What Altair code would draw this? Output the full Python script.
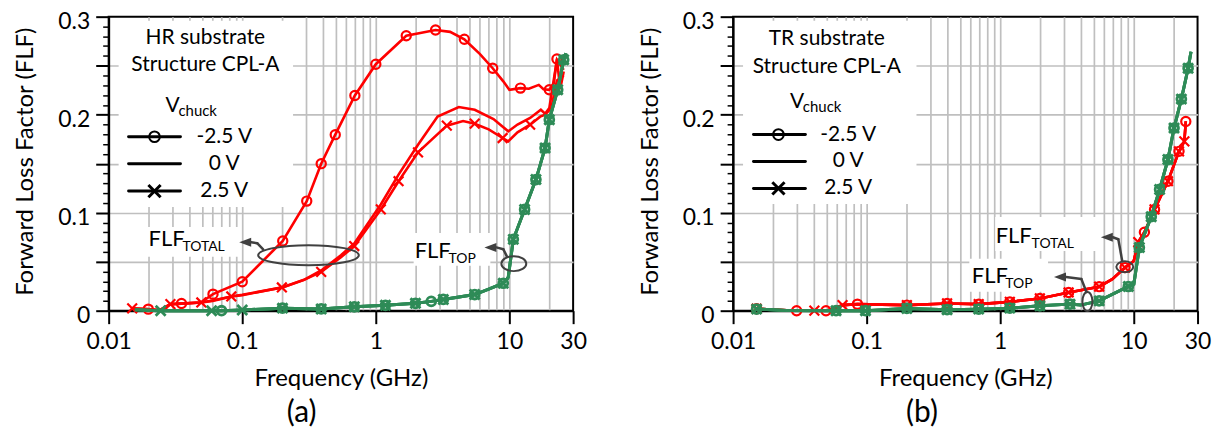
import altair as alt
import pandas as pd

FONT = "Lato"
RED = "#ff0000"
GREEN = "#2e8b57"
GRIDC = "#bfbfbf"
DARK = "#404040"

# ---------------- axis values ----------------
X_TICKS = [0.01, 0.1, 1, 10, 30]
X_GRID = [0.02, 0.03, 0.04, 0.05, 0.06, 0.07, 0.08, 0.09, 0.1,
          0.2, 0.3, 0.4, 0.5, 0.6, 0.7, 0.8, 0.9, 1,
          2, 3, 4, 5, 6, 7, 8, 9, 10, 20]
Y_MAJOR = [0, 0.05, 0.1, 0.15, 0.2, 0.25, 0.3]
Y_GRID = [0.05, 0.1, 0.15, 0.2, 0.25]
Y_MINOR = [0.01, 0.02, 0.03, 0.04, 0.06, 0.07, 0.08, 0.09, 0.11, 0.12, 0.13, 0.14,
           0.16, 0.17, 0.18, 0.19, 0.21, 0.22, 0.23, 0.24, 0.26, 0.27, 0.28, 0.29]

# ---------------- panel (a): HR substrate ----------------
# FLF_TOTAL, Vchuck = -2.5 V
A_TOT_N25_F = [0.015, 0.0198, 0.024, 0.029, 0.0351, 0.049, 0.0604, 0.1, 0.201, 0.304, 0.39, 0.497,
               0.697, 1.0, 1.69, 2.2, 2.8, 3.6, 4.6, 6.0, 7.5, 9.0, 10.0, 12.1, 14.0, 16.6, 18.0,
               19.9, 21.5, 22.7, 24.0, 25.5]
A_TOT_N25_V = [0.0023, 0.0016, 0.0004, 0.0065, 0.0074, 0.0084, 0.0169, 0.0296, 0.0711, 0.1118, 0.150,
               0.1796, 0.2196, 0.2515, 0.2806, 0.2835, 0.2864, 0.2845, 0.2769, 0.262, 0.2474, 0.234,
               0.2254, 0.2271, 0.2264, 0.2304, 0.226, 0.2254, 0.232, 0.2569, 0.226, 0.244]
A_TOT_N25_MF = [0.0198, 0.0351, 0.0604, 0.1, 0.201, 0.304, 0.39, 0.497, 0.697, 1.0, 1.69, 2.8, 4.6,
                7.5, 12.1, 19.9, 22.7]
A_TOT_N25_MV = [0.0016, 0.0074, 0.0169, 0.0296, 0.0711, 0.1118, 0.150, 0.1796, 0.2196, 0.2515,
                0.2806, 0.2864, 0.2769, 0.2474, 0.2271, 0.2254, 0.2569]
# FLF_TOTAL, Vchuck = 0 V
A_TOT_0_F = [0.015, 0.0198, 0.024, 0.029, 0.0351, 0.049, 0.06, 0.083, 0.1, 0.2, 0.29, 0.39, 0.548,
             0.69, 1.09, 1.48, 2.07, 2.9, 4.18, 5.5, 7.6, 9.8, 11.5, 14.3, 17.2, 18.5, 19.9, 22.7, 25.5]
A_TOT_0_V = [0.0022, 0.0015, 0.0004, 0.0066, 0.0072, 0.0084, 0.0105, 0.0145, 0.0162, 0.0238, 0.0315,
             0.041, 0.0565, 0.0686, 0.1084, 0.1389, 0.1694, 0.1982, 0.2078, 0.205, 0.1956, 0.183,
             0.19, 0.1966, 0.205, 0.201, 0.2067, 0.256, 0.2457]
# FLF_TOTAL, Vchuck = 2.5 V
A_TOT_P25_F = [0.015, 0.0198, 0.024, 0.029, 0.0351, 0.0494, 0.06, 0.0828, 0.1, 0.198, 0.29, 0.39,
               0.548, 0.69, 1.09, 1.48, 2.07, 3.4, 4.5, 5.5, 7.0, 8.9, 9.8, 11.5, 14.3, 17.0, 18.5,
               20.6, 22.7, 25.5]
A_TOT_P25_V = [0.0023, 0.0015, 0.0003, 0.0067, 0.0072, 0.0084, 0.0100, 0.0145, 0.0158, 0.0237,
               0.0314, 0.0396, 0.0545, 0.066, 0.1033, 0.1321, 0.1616, 0.1888, 0.1935, 0.1908, 0.185,
               0.1762, 0.1728, 0.182, 0.1898, 0.198, 0.2, 0.2067, 0.235, 0.24]
A_TOT_P25_MF = [0.015, 0.029, 0.0494, 0.0828, 0.198, 0.39, 0.69, 1.09, 1.48, 2.07, 3.4, 5.5, 8.9, 14.3]
A_TOT_P25_MV = [0.0023, 0.0067, 0.0084, 0.0145, 0.0237, 0.0396, 0.066, 0.1033, 0.1321, 0.1616,
                0.1888, 0.1908, 0.1762, 0.1898]
# FLF_TOP (all three Vchuck overlap)
A_TOP_F = [0.0157, 0.0245, 0.035, 0.059, 0.07, 0.1, 0.2, 0.39, 0.69, 1.18, 1.98, 2.6, 3.2, 5.5, 7.0,
           9.0, 9.8, 10.7, 13.0, 15.8, 18.5, 19.9, 23.0, 25.5, 26.5]
A_TOP_V = [0.001, 0.0, 0.0, 0.0, 0.0, 0.0008, 0.0026, 0.0018, 0.004, 0.0055, 0.0075, 0.0095, 0.0115,
           0.0165, 0.022, 0.028, 0.0339, 0.0728, 0.1033, 0.1338, 0.166, 0.1949, 0.2254, 0.256, 0.2627]
A_TOP_N25_MF = [0.07, 0.2, 0.39, 0.69, 1.18, 1.98, 2.6, 3.2, 5.5, 9.0, 10.7, 13.0, 15.8, 18.5, 19.9,
                23.0, 25.5]
A_TOP_N25_MV = [0.0, 0.0026, 0.0018, 0.004, 0.0055, 0.0075, 0.0095, 0.0115, 0.0165, 0.028, 0.0728,
                0.1033, 0.1338, 0.166, 0.1949, 0.2254, 0.256]
A_TOP_P25_MF = [0.0245, 0.059, 0.1, 0.2, 0.39, 0.69, 1.18, 1.98, 3.2, 5.5, 9.0, 10.7, 13.0, 15.8,
                18.5, 19.9, 23.0, 25.5]
A_TOP_P25_MV = [0.0, 0.0, 0.0008, 0.0026, 0.0018, 0.004, 0.0055, 0.0075, 0.0115, 0.0165, 0.028,
                0.0728, 0.1033, 0.1338, 0.166, 0.1949, 0.2254, 0.256]

# ---------------- panel (b): TR substrate ----------------
B_TOT_F = [0.015, 0.0299, 0.0406, 0.0496, 0.059, 0.066, 0.0853, 0.2, 0.4, 0.69, 1.18, 1.98, 3.25,
           5.5, 6.9, 8.6, 10.0, 10.8, 12.0, 14.3, 18.0, 21.8, 23.9, 24.5]
B_TOT_V = [0.002, 0.0, 0.0, 0.0, 0.003, 0.0057, 0.0067, 0.0057, 0.0074, 0.0067, 0.009, 0.0125,
           0.0186, 0.0245, 0.0321, 0.044, 0.0508, 0.07, 0.080, 0.1033, 0.1321, 0.1626, 0.1728, 0.1931]
B_TOT_N25_MF = [0.015, 0.0299, 0.0496, 0.0853, 0.2, 0.4, 0.69, 1.18, 1.98, 3.25, 5.5, 8.6, 12.0,
                14.3, 18.0, 21.8, 24.5]
B_TOT_N25_MV = [0.002, 0.0, 0.0, 0.0067, 0.0057, 0.0074, 0.0067, 0.009, 0.0125, 0.0186, 0.0245,
                0.044, 0.080, 0.1033, 0.1321, 0.1626, 0.1931]
B_TOT_P25_MF = [0.015, 0.0406, 0.066, 0.2, 0.4, 0.69, 1.18, 1.98, 3.25, 5.5, 8.6, 10.8, 14.3, 18.0,
                21.8, 23.9]
B_TOT_P25_MV = [0.002, 0.0, 0.0057, 0.0057, 0.0074, 0.0067, 0.009, 0.0125, 0.0186, 0.0245, 0.044,
                0.07, 0.1033, 0.1321, 0.1626, 0.1728]
B_TOP_F = [0.015, 0.025, 0.059, 0.098, 0.2, 0.4, 0.69, 1.18, 1.98, 3.33, 4.0, 5.5, 9.1, 10.0, 11.0,
           13.5, 15.6, 18.0, 20.0, 22.7, 25.5, 26.8]
B_TOP_V = [0.0016, 0.0003, 0.0, 0.0, 0.0023, 0.001, 0.0016, 0.0026, 0.005, 0.0067, 0.0057, 0.01,
           0.0247, 0.027, 0.0644, 0.0959, 0.1237, 0.1542, 0.1864, 0.2159, 0.2474, 0.2643]
B_TOP_MF = [0.015, 0.059, 0.098, 0.2, 0.4, 0.69, 1.18, 1.98, 3.33, 5.5, 9.1, 11.0, 13.5, 15.6, 18.0,
            20.0, 22.7, 25.5]
B_TOP_MV = [0.0016, 0.0, 0.0, 0.0023, 0.001, 0.0016, 0.0026, 0.005, 0.0067, 0.01, 0.0247, 0.0644,
            0.0959, 0.1237, 0.1542, 0.1864, 0.2159, 0.2474]

VOLTS = ["-2.5 V", "0 V", "2.5 V"]

W, H = 466, 295
XS = alt.Scale(type="log", domain=[0.01, 30], nice=False)
YS = alt.Scale(domain=[0, 0.3], nice=False, zero=False)

X_SHAPE = "M-1,-1L1,1M-1,1L1,-1"
ARROW_HEAD = "M-1,0L1,-0.75L1,0.75Z"


def ellipse_path(ratio):
    return f"M-1,0A1,{ratio},0,1,1,1,0A1,{ratio},0,1,1,-1,0Z"


def sdf(F, V, volt):
    return pd.DataFrame({"f": F, "v": V, "volt": volt})


ONE = alt.Data(values=[{"k": 1}])

grid_x = alt.Axis(orient="bottom", grid=True, values=X_GRID, ticks=False, labels=False,
                  domain=False, title=None, gridColor=GRIDC, gridWidth=1.7)
grid_y = alt.Axis(orient="left", grid=True, values=Y_GRID, ticks=False, labels=False,
                  domain=False, title=None, gridColor=GRIDC, gridWidth=1.7)
main_x = alt.Axis(orient="bottom", grid=False, values=X_TICKS, format="~g", tickSize=13,
                  tickWidth=2, tickColor="black", domainColor="black", domainWidth=2,
                  labelFont=FONT, labelFontSize=23, labelColor="black", labelPadding=7,
                  labelFlush=False, labelOverlap=False, title="Frequency (GHz)", titleFont=FONT,
                  titleFontSize=24, titleFontWeight="normal", titleColor="black", titleY=68,
                  titleBaseline="middle")
main_y = alt.Axis(orient="left", grid=False, values=Y_MAJOR,
                  labelExpr="abs(datum.value*10 - round(datum.value*10)) < 0.001 ? format(datum.value, '~g') : ''",
                  tickSize=13, tickWidth=2, tickColor="black", domainColor="black", domainWidth=2,
                  labelFont=FONT, labelFontSize=23, labelColor="black", labelPadding=6,
                  labelOffset=4.5, labelOverlap=False, labelFlush=False,
                  title="Forward Loss Factor (FLF)", titleFont=FONT, titleFontSize=24,
                  titleFontWeight="normal", titleColor="black", titleX=-83, titleY=145,
                  titleBaseline="middle", titleAlign="center")
minor_y = alt.Axis(orient="left", grid=False, values=Y_MINOR, tickSize=6, tickWidth=1.5,
                   tickColor="black", labels=False, domain=False, title=None)


def rect(x, x2, y, y2):
    return alt.Chart(ONE).mark_rect(color="white").encode(
        x=alt.value(x), x2=alt.value(x2), y=alt.value(y), y2=alt.value(y2))


def text(t, x, y, size=20, align="center", color="black"):
    return alt.Chart(ONE).mark_text(text=t, font=FONT, fontSize=size, align=align,
                                    baseline="middle", color=color).encode(
        x=alt.value(x), y=alt.value(y))


def seg(x, y, x2, y2, color=DARK, width=2.5):
    return alt.Chart(ONE).mark_rule(color=color, strokeWidth=width, strokeCap="round").encode(
        x=alt.value(x), y=alt.value(y), x2=alt.value(x2), y2=alt.value(y2))


def sym(x, y, shape, size, color="black", filled=False, width=2):
    return alt.Chart(ONE).mark_point(shape=shape, size=size, filled=filled, color=color,
                                     strokeWidth=width, opacity=1).encode(
        x=alt.value(x), y=alt.value(y))


def panel(red_lines, green_lines, red_circ, red_x, green_circ, green_x, ann):
    fx_grid = alt.X("f:Q", scale=XS, axis=grid_x)
    fy_grid = alt.Y("v:Q", scale=YS, axis=grid_y)
    fx_main = alt.X("f:Q", scale=XS, axis=main_x)
    fy_main = alt.Y("v:Q", scale=YS, axis=main_y)
    fx_none = alt.X("f:Q", scale=XS, axis=None)
    fy_minor = alt.Y("v:Q", scale=YS, axis=minor_y)
    fy_none = alt.Y("v:Q", scale=YS, axis=None)

    layers = [
        # white boxes behind texts (hide grid)
        rect(*ann["legend_box"]),
        rect(*ann["total_box"]),
        rect(*ann["top_box"]),
        alt.Chart(red_lines).mark_line(color=RED, strokeWidth=2.6).encode(
            x=fx_grid, y=fy_grid, detail="volt:N"),
        alt.Chart(red_circ).mark_point(shape="circle", size=85, filled=False, color=RED,
                                       strokeWidth=2.2, opacity=1).encode(x=fx_none, y=fy_minor),
        alt.Chart(red_x).mark_point(shape=X_SHAPE, size=95, filled=False, color=RED,
                                    strokeWidth=2.2, opacity=1).encode(x=fx_none, y=fy_none),
        alt.Chart(green_lines).mark_line(color=GREEN, strokeWidth=3).encode(
            x=fx_main, y=fy_main, detail="volt:N"),
        alt.Chart(green_circ).mark_point(shape="circle", size=80, filled=False, color=GREEN,
                                         strokeWidth=2.8, opacity=1).encode(x=fx_none, y=fy_none),
        alt.Chart(green_x).mark_point(shape=X_SHAPE, size=100, filled=False, color=GREEN,
                                      strokeWidth=2.8, opacity=1).encode(x=fx_none, y=fy_none),
    ]
    # texts in the legend box
    tx, ty1, ty2 = ann["title_pos"]
    layers += [text(ann["title1"], tx, ty1, size=21), text("Structure CPL-A", tx, ty2, size=21)]
    vx, vy = ann["v_pos"]
    layers += [text("V", vx, vy, size=21, align="left"),
               text("chuck", vx + 13, vy + 5, size=15, align="left")]
    lx1, lx2, mx, labx = ann["leg_x"]
    for yy, lab, kind in zip(ann["leg_y"], VOLTS, ["o", "-", "x"]):
        layers.append(seg(lx1, yy, lx2, yy, color="black", width=3))
        if kind == "o":
            layers.append(sym(mx, yy, "circle", 115, color="black", width=2))
        elif kind == "x":
            layers.append(sym(mx, yy, X_SHAPE, 150, color="black", width=3))
        layers.append(text(lab, labx, yy, size=21))
    # FLF labels
    for key, sub in [("total", "TOTAL"), ("top", "TOP")]:
        fx, fy, sx = ann[key + "_lab"]
        layers += [text("FLF", fx, fy, size=22, align="left"),
                   text(sub, sx, fy + 8, size=14, align="left")]
        ex, ey, rx, ry = ann[key + "_ell"]
        layers.append(sym(ex, ey, ellipse_path(round(ry / rx, 3)), (2 * rx) ** 2, color=DARK, width=2))
        hx, hy = ann[key + "_head"]
        layers.append(sym(hx, hy, ARROW_HEAD, 144, color=DARK, filled=True, width=0))
        pts = ann[key + "_shaft"]
        for (x1, y1), (x2, y2) in zip(pts[:-1], pts[1:]):
            layers.append(seg(x1, y1, x2, y2))
    lbx, lby, lbt = ann["panel_label"]
    layers.append(text(lbt, lbx, lby, size=30))

    return alt.layer(*layers).resolve_axis(x="independent", y="independent").properties(
        width=W, height=H)


# ---------------- build data frames ----------------
a_red = pd.concat([sdf(A_TOT_N25_F, A_TOT_N25_V, VOLTS[0]), sdf(A_TOT_0_F, A_TOT_0_V, VOLTS[1]),
                   sdf(A_TOT_P25_F, A_TOT_P25_V, VOLTS[2])])
a_green = pd.concat([sdf(A_TOP_F, A_TOP_V, v) for v in VOLTS])
b_red = pd.concat([sdf(B_TOT_F, B_TOT_V, v) for v in VOLTS])
b_green = pd.concat([sdf(B_TOP_F, B_TOP_V, v) for v in VOLTS])

ann_a = {
    "legend_box": (10, 185, 4, 191),
    "total_box": (21, 130, 211, 241),
    "top_box": (306, 383, 217, 250),
    "title1": "HR substrate",
    "title_pos": (97, 21.5, 48.5),
    "v_pos": (57, 90),
    "leg_x": (20, 72, 46, 116),
    "leg_y": (120.5, 147.5, 175),
    "total_lab": (40, 223, 74),
    "total_ell": (200.5, 239.3, 50.5, 10),
    "total_head": (137, 226.3),
    "total_shaft": [(143, 226.3), (149, 227.3), (155, 233.5)],
    "top_lab": (307, 235, 341),
    "top_ell": (406.5, 247.8, 12.5, 7.5),
    "top_head": (383, 231.5),
    "top_shaft": [(389, 231.5), (396, 233.3), (399.5, 240.5)],
    "panel_label": (193.6, 398, "(a)"),
}
ann_b = {
    "legend_box": (10, 184, 4, 188),
    "total_box": (263, 366, 201, 235),
    "top_box": (237, 316, 243, 276),
    "title1": "TR substrate",
    "title_pos": (94, 22.3, 50.3),
    "v_pos": (57, 85.3),
    "leg_x": (20.5, 72.5, 45.5, 115.5),
    "leg_y": (118.3, 145.3, 172.3),
    "total_lab": (263.5, 220.3, 299.5),
    "total_ell": (393, 251, 8.5, 5.5),
    "total_head": (375, 221.3),
    "total_shaft": [(381, 221.3), (386.5, 223.3), (390.5, 245.5)],
    "top_lab": (239.5, 260.3, 273),
    "top_ell": (355.5, 285.8, 5, 9.5),
    "top_head": (328, 261.3),
    "top_shaft": [(334, 261.3), (349.5, 263.3), (354.5, 276.3)],
    "panel_label": (189.5, 398, "(b)"),
}

pa = panel(a_red, a_green,
           sdf(A_TOT_N25_MF, A_TOT_N25_MV, VOLTS[0]), sdf(A_TOT_P25_MF, A_TOT_P25_MV, VOLTS[2]),
           sdf(A_TOP_N25_MF, A_TOP_N25_MV, VOLTS[0]), sdf(A_TOP_P25_MF, A_TOP_P25_MV, VOLTS[2]),
           ann_a)
pb = panel(b_red, b_green,
           sdf(B_TOT_N25_MF, B_TOT_N25_MV, VOLTS[0]), sdf(B_TOT_P25_MF, B_TOT_P25_MV, VOLTS[2]),
           sdf(B_TOP_MF, B_TOP_MV, VOLTS[0]), sdf(B_TOP_MF, B_TOP_MV, VOLTS[2]),
           ann_b)

chart = alt.hconcat(pa, pb, spacing=160.5, bounds="flush",
                    padding={"left": 5, "top": 0, "right": 0, "bottom": 0}).configure(
    font=FONT).configure_view(stroke="black", strokeWidth=2)

chart.save("out.html", embed_options={"renderer": "svg", "actions": False})
